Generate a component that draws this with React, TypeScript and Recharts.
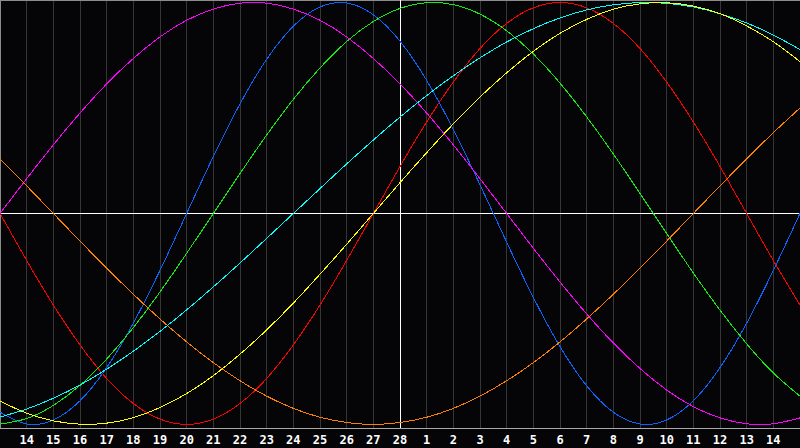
import React from 'react';
import { LineChart, Line, XAxis, YAxis, CartesianGrid, ReferenceLine } from 'recharts';

// day labels, one per grid column (index 0 = left edge, 30 = right edge)
const dayLabels = [
  '13', '14', '15', '16', '17', '18', '19', '20', '21', '22', '23', '24', '25', '26', '27', '28',
  '1', '2', '3', '4', '5', '6', '7', '8', '9', '10', '11', '12', '13', '14', '15',
];

// cycle values in percent, one per day
const red = [0, -22.3, -43.4, -62.3, -78.2, -90.1, -97.5, -100, -97.5, -90.1, -78.2, -62.3, -43.4, -22.3, 0, 22.3, 43.4, 62.3, 78.2, 90.1, 97.5, 100, 97.5, 90.1, 78.2, 62.3, 43.4, 22.3, 0, -22.3, -43.4];
const blue = [-94.2, -99.8, -97.9, -88.8, -73.1, -52.0, -27.0, 0, 27.0, 52.0, 73.1, 88.8, 97.9, 99.8, 94.2, 81.7, 63.1, 39.8, 13.6, -13.6, -39.8, -63.1, -81.7, -94.2, -99.8, -97.9, -88.8, -73.1, -52.0, -27.0, 0];
const green = [-99.9, -97.2, -91.0, -81.5, -69.0, -54.1, -37.2, -18.9, 0, 18.9, 37.2, 54.1, 69.0, 81.5, 91.0, 97.2, 99.9, 99.0, 94.5, 86.6, 75.6, 61.8, 45.8, 28.2, 9.5, -9.5, -28.2, -45.8, -61.8, -75.6, -86.6];
const magenta = [0, 16.5, 32.5, 47.6, 61.4, 73.5, 83.7, 91.6, 96.9, 99.7, 99.7, 96.9, 91.6, 83.7, 73.5, 61.4, 47.6, 32.5, 16.5, 0, -16.5, -32.5, -47.6, -61.4, -73.5, -83.7, -91.6, -96.9, -99.7, -99.7, -96.9];
const orange = [25.9, 13.1, 0, -13.1, -25.9, -38.3, -50.0, -60.9, -70.7, -79.3, -86.6, -92.4, -96.6, -99.1, -100, -99.1, -96.6, -92.4, -86.6, -79.3, -70.7, -60.9, -50.0, -38.3, -25.9, -13.1, 0, 13.1, 25.9, 38.3, 50.0];
const cyan = [-96.5, -92.7, -87.6, -81.3, -73.8, -65.3, -55.9, -45.7, -34.8, -23.5, -11.8, 0, 11.8, 23.5, 34.8, 45.7, 55.9, 65.3, 73.8, 81.3, 87.6, 92.7, 96.5, 98.9, 100, 99.6, 97.9, 94.7, 90.3, 84.6, 77.7];
const yellow = [-88.9, -94.7, -98.3, -99.9, -99.4, -96.8, -92.0, -85.4, -76.9, -66.7, -55.2, -42.5, -28.8, -14.6, 0, 14.6, 28.8, 42.5, 55.2, 66.7, 76.9, 85.4, 92.0, 96.8, 99.4, 99.9, 98.3, 94.7, 88.9, 81.4, 72.0];

const todayIndex = 15;

const data = dayLabels.map((label, i) => ({
  t: i,
  label,
  red: red[i],
  blue: blue[i],
  green: green[i],
  magenta: magenta[i],
  orange: orange[i],
  cyan: cyan[i],
  yellow: yellow[i],
}));

const ticks = dayLabels.map((_, i) => i).filter((i) => i > 0 && i < dayLabels.length - 1);

const series = [
  { key: 'red', color: '#ff0000' },
  { key: 'blue', color: '#0a64ff' },
  { key: 'green', color: '#10f010' },
  { key: 'magenta', color: '#ff00ff' },
  { key: 'orange', color: '#ff8000' },
  { key: 'cyan', color: '#00ffff' },
  { key: 'yellow', color: '#ffff00' },
];

const Y_MAX = 101.2;
const Y_MIN = -101.7;

const App: React.FC = () => {
  return (
    <div style={{ position: 'absolute', left: 0, top: 0, width: 800, height: 448, background: '#050407' }}>
      <style>{'.recharts-wrapper path, .recharts-wrapper line { shape-rendering: crispEdges; }'}</style>
      <LineChart width={800} height={448} data={data} margin={{ top: 0, right: 0, bottom: 0, left: 0 }}>
        <CartesianGrid horizontal={false} stroke="#363636" />
        <XAxis
          dataKey="t"
          type="number"
          domain={[0, 30]}
          ticks={ticks}
          tickFormatter={(v: number) => dayLabels[v]}
          interval={0}
          height={20}
          tickLine={false}
          tickMargin={1}
          axisLine={{ stroke: '#a8a8a8' }}
          tick={{ fill: '#ffffff', fontSize: 12, fontWeight: 'bold', fontFamily: 'DejaVu Sans Mono' }}
        />
        <YAxis hide domain={[Y_MIN, Y_MAX]} />
        <ReferenceLine x={0} stroke="#8c8c8c" />
        <ReferenceLine y={Y_MAX} stroke="#8c8c8c" />
        <ReferenceLine y={0} stroke="#ffffff" />
        <ReferenceLine x={todayIndex} stroke="#ffffff" />
        {series.map((s) => (
          <Line
            key={s.key}
            dataKey={s.key}
            type="natural"
            stroke={s.color}
            strokeWidth={1}
            dot={false}
            activeDot={false}
            isAnimationActive={false}
          />
        ))}
      </LineChart>
    </div>
  );
};

export default App;
